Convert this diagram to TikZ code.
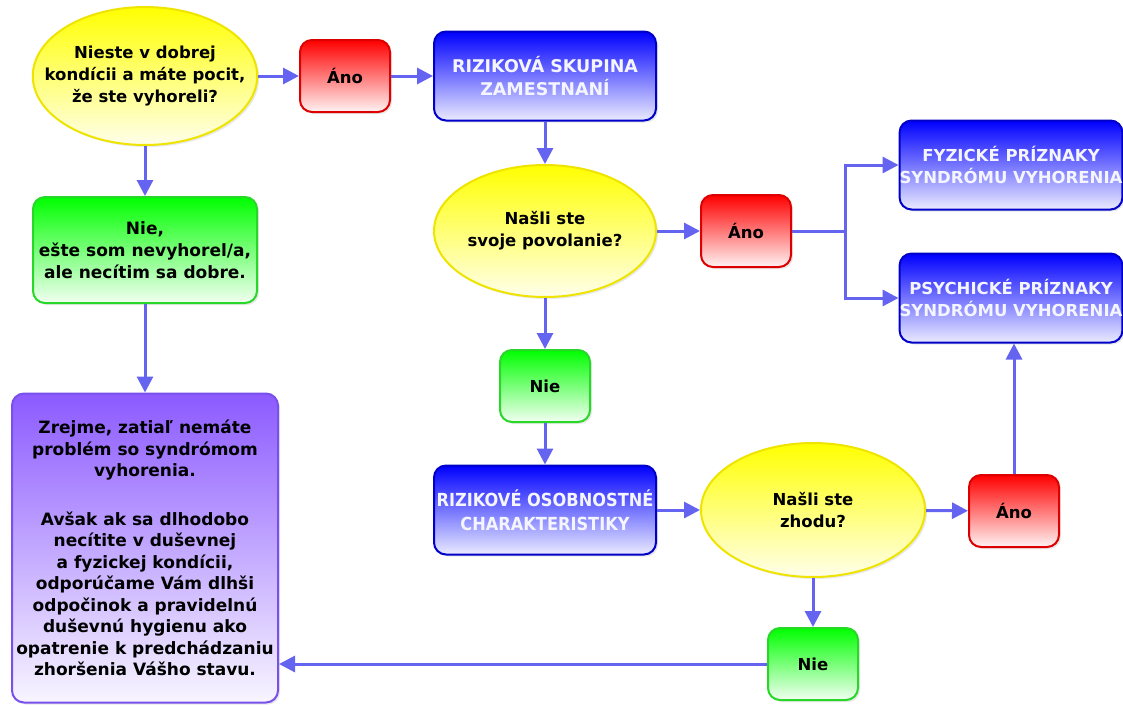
\documentclass[tikz,border=0pt]{standalone}
\usepackage{fontspec}
\setmainfont{DejaVu Sans}
\newfontfamily\condfont[FakeStretch=0.9]{DejaVu Sans}
\usetikzlibrary{shapes.geometric}
\usetikzlibrary{arrows.meta}
\usetikzlibrary{shadows}

\definecolor{arrcol}{RGB}{100,100,240}
\definecolor{ylborder}{RGB}{238,228,0}
\definecolor{rdborder}{RGB}{220,0,0}
\definecolor{gnborder}{RGB}{40,215,40}
\definecolor{blborder}{RGB}{0,0,200}
\definecolor{ppborder}{RGB}{120,80,235}
\definecolor{pptop}{RGB}{140,90,255}

\begin{document}
\begin{tikzpicture}[x=1pt,y=-1pt]
\tikzstyle{base} = [draw, line width=2pt, align=center, inner sep=0pt,
  font=\fontsize{16.5}{22}\selectfont\bfseries,
  drop shadow={shadow xshift=2pt, shadow yshift=-2pt, opacity=.18}]
\tikzstyle{quest} = [base, ellipse, draw=ylborder, top color=yellow, bottom color=yellow!8]
\tikzstyle{box} = [base, rounded corners=12pt]
\tikzstyle{yes} = [box, draw=rdborder, top color=red, bottom color=red!5, minimum width=90pt, minimum height=72pt]
\tikzstyle{no} = [box, draw=gnborder, top color=green, bottom color=green!5]
\tikzstyle{risk} = [box, draw=blborder, top color=blue, bottom color=blue!8, text=white!96!blue, minimum width=222pt, minimum height=89pt]
\tikzstyle{arr} = [draw=arrcol, line width=3pt, -{Triangle[length=16pt,width=16pt]}]

\useasboundingbox (0,0) rectangle (1123,704);

% left column
\node[quest, inner xsep=-21pt, minimum width=224pt, minimum height=138pt] (q1) at (145,76) {Nieste v dobrej\\kondícii a máte pocit,\\že ste vyhoreli?};
\node[no, font=\fontsize{17}{22}\selectfont\bfseries, minimum width=224pt, minimum height=106pt] (nie1) at (145,250) {Nie,\\ešte som nevyhorel/a,\\ale necítim sa dobre.};
\node[box, draw=ppborder, top color=pptop, bottom color=pptop!6, font=\fontsize{17}{21.5}\selectfont\bfseries,
  minimum width=266pt, minimum height=309pt] (info) at (145,548)
  {Zrejme, zatiaľ nemáte\\problém so syndrómom\\vyhorenia.\\[27pt]Avšak ak sa dlhodobo\\necítite v duševnej\\a fyzickej kondícii,\\odporúčame Vám dlhši\\odpočinok a pravidelnú\\duševnú hygienu ako\\opatrenie k predchádzaniu\\zhoršenia Vášho stavu.};

% middle column
\node[yes] (ano1) at (345,76) {Áno};
\node[risk, font=\fontsize{17.5}{23}\selectfont\bfseries] (rs) at (545,76) {RIZIKOVÁ SKUPINA\\ZAMESTNANÍ};
\node[quest, minimum width=222pt, minimum height=132pt] (q2) at (545,231) {Našli ste\\svoje povolanie?};
\node[no, minimum width=90pt, minimum height=72pt] (nie2) at (545,386) {Nie};
\node[risk, font=\condfont\fontsize{18}{24}\selectfont\bfseries] (ro) at (545,510) {RIZIKOVÉ OSOBNOSTNÉ\\CHARAKTERISTIKY};
\node[quest, minimum width=224pt, minimum height=134pt] (q3) at (813,510) {Našli ste\\zhodu?};
\node[no, minimum width=90pt, minimum height=72pt] (nie3) at (813,664) {Nie};

% right column
\node[yes] (ano2) at (746,231) {Áno};
\node[yes] (ano3) at (1014,511) {Áno};
\node[risk] (fyz) at (1011,165) {FYZICKÉ PRÍZNAKY\\SYNDRÓMU VYHORENIA};
\node[risk] (psy) at (1011,298) {PSYCHICKÉ PRÍZNAKY\\SYNDRÓMU VYHORENIA};
\coordinate (br) at (845,231);

\foreach \a/\b in {q1/nie1, nie1/info, q1/ano1, ano1/rs, rs/q2, q2/ano2, q2/nie2, nie2/ro, ro/q3, q3/ano3, q3/nie3}
  \draw[arr] (\a) -- (\b);

\draw[arr] (ano2) -- (br) |- (fyz);
\draw[arr] (br) |- (psy);
\draw[arr] (ano3) -- (ano3 |- psy.south);
\draw[arr] (nie3) -- (nie3 -| info.east);

\end{tikzpicture}
\end{document}
